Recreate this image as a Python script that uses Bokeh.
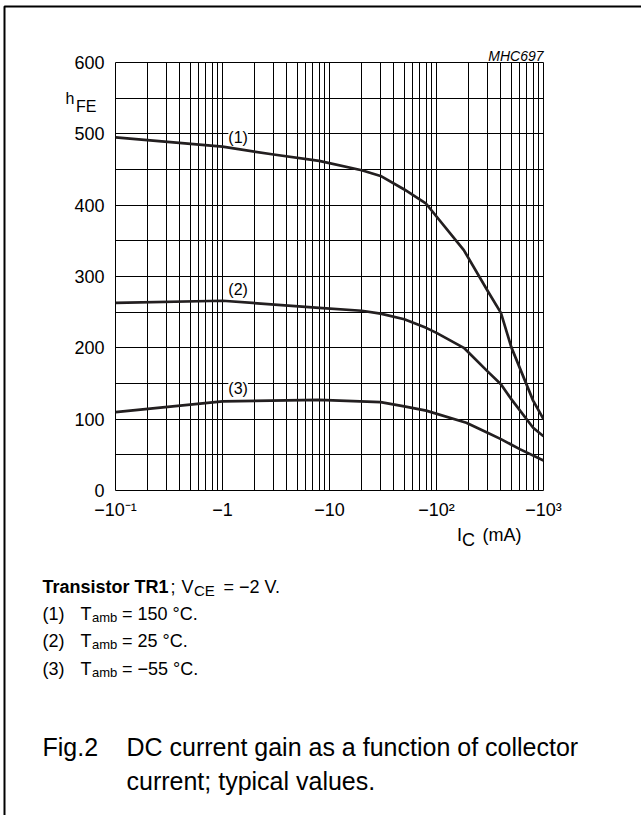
from bokeh.plotting import figure
from bokeh.models import Range1d, FixedTicker, CustomJSTickFormatter, Label
from bokeh.core.properties import value
from bokeh.embed import file_html
from bokeh.resources import INLINE

# ---- data ----
ic_1 = [0.1, 1, 3, 8, 20, 30, 50, 80, 180, 300, 400, 500, 800, 1000]
hfe_1 = [495, 482, 471, 462, 449, 441, 422, 402, 337, 280, 249, 201, 126, 100]
ic_2 = [0.1, 1, 8, 20, 30, 50, 80, 100, 180, 300, 400, 500, 800, 1000]
hfe_2 = [263, 266, 256, 252, 248, 240, 228, 221, 200, 167, 149, 128, 88, 76]
ic_3 = [0.1, 1, 8, 30, 50, 80, 190, 300, 400, 600, 1000]
hfe_3 = [110, 125, 127, 124, 118, 112, 95, 81, 72, 58, 42]

curve_names = ["(1)", "(2)", "(3)"]
curve_label_x = [1.4, 1.4, 1.4]
curve_label_y = [495, 282, 143]

x_ticks = [0.1, 1, 10, 100, 1000]
x_tick_labels = ["\u221210\u207b\u00b9", "\u22121", "\u221210", "\u221210\u00b2", "\u221210\u00b3"]
y_ticks = [0, 100, 200, 300, 400, 500, 600]
y_grid = [0, 50, 100, 150, 200, 250, 300, 350, 400, 450, 500, 550, 600]
x_grid = [m * 10.0 ** e for e in range(-1, 3) for m in range(1, 10)] + [1000]

FONT = "Liberation Sans"
INK = "#231f20"

# ---------------- chart (canvas origin at page pixel 5,7) ----------------
p = figure(width=634, height=806, x_axis_type="log",
           x_range=Range1d(0.1, 1000), y_range=Range1d(0, 600),
           output_backend="svg", toolbar_location=None,
           min_border_left=110, min_border_right=96,
           min_border_top=55, min_border_bottom=323)
p.styles = {"position": "absolute", "left": "5px", "top": "7px"}
p.background_fill_color = "white"
p.border_fill_color = "white"
p.outline_line_color = "black"
p.outline_line_width = 1

for ax in (p.xaxis[0], p.yaxis[0]):
    ax.axis_line_color = None
    ax.major_tick_line_color = None
    ax.minor_tick_line_color = None
    ax.major_tick_out = 0
    ax.minor_tick_out = 0
    ax.major_label_text_font = FONT
    ax.major_label_text_font_size = "18px"
    ax.major_label_text_color = "black"

p.xaxis.ticker = FixedTicker(ticks=x_ticks)
p.xaxis.formatter = CustomJSTickFormatter(
    args=dict(labels=x_tick_labels),
    code="return labels[Math.round(Math.log10(tick)) + 1];")
p.xaxis.major_label_standoff = 9
p.yaxis.ticker = FixedTicker(ticks=y_ticks)
p.yaxis.major_label_standoff = 11

p.xgrid.ticker = FixedTicker(ticks=x_grid)
p.ygrid.ticker = FixedTicker(ticks=y_grid)
for g in (p.xgrid[0], p.ygrid[0]):
    g.grid_line_color = "black"
    g.grid_line_width = 1
    g.grid_line_alpha = 1.0

for xs, ys in ((ic_1, hfe_1), (ic_2, hfe_2), (ic_3, hfe_3)):
    p.line(xs, ys, line_width=2.7, line_color=INK, line_join="round")

for name, lx, ly in zip(curve_names, curve_label_x, curve_label_y):
    p.add_layout(Label(x=lx, y=ly, text=name, text_font=FONT, text_font_size="16px",
                       text_align="center", text_baseline="middle", text_color="black",
                       background_fill_color="white"))

# ---------------- text layer (page pixel coordinates) ----------------
t = figure(width=641, height=815, x_range=Range1d(0, 641), y_range=Range1d(815, 0),
           output_backend="svg", toolbar_location=None,
           x_axis_location=None, y_axis_location=None, min_border=0)
t.styles = {"position": "absolute", "left": "0px", "top": "0px"}
t.background_fill_color = None
t.border_fill_color = None
t.outline_line_color = None
t.grid.visible = False

# page frame (top and left rules of the datasheet box)
t.line(x=[4, 4, 641], y=[815, 6, 6], line_color="black", line_width=2)

def txt(text, px, py, size, align="left", style="normal"):
    t.text(x=[px], y=[py], text=[text], text_font=value(FONT),
           text_font_size=value(f"{size}px"), text_font_style=style,
           text_align=align, text_baseline="alphabetic", text_color="black")

txt("MHC697", 543, 55, 14, align="right", style="italic")
txt("h", 65, 98, 16)
txt("FE", 75.5, 106, 16)
txt("I", 456.5, 534, 18)
txt("C", 461.5, 539, 18)
txt("(mA)", 482, 534, 18)

txt("Transistor TR1", 42, 586, 18, style="bold")
txt(";", 170, 586, 18)
txt("V", 181, 586, 18)
txt("CE", 193.5, 589.5, 15)
txt("= \u22122 V.", 223, 586, 18)
notes = [("(1)", "= 150 \u00b0C."), ("(2)", "= 25 \u00b0C."), ("(3)", "= \u221255 \u00b0C.")]
for i, (num, rest) in enumerate(notes):
    base = 613 + i * 27.5
    txt(num, 42, base, 18)
    txt("T", 80, base, 18)
    txt("amb", 91.5, base + 3.5, 13)
    txt(rest, 121.5, base, 18)

txt("Fig.2", 42, 746, 25)
txt("DC current gain as a function of collector", 126, 746, 25)
txt("current; typical values.", 126, 780, 25)

open("out.html", "w").write(file_html([p, t], INLINE))
